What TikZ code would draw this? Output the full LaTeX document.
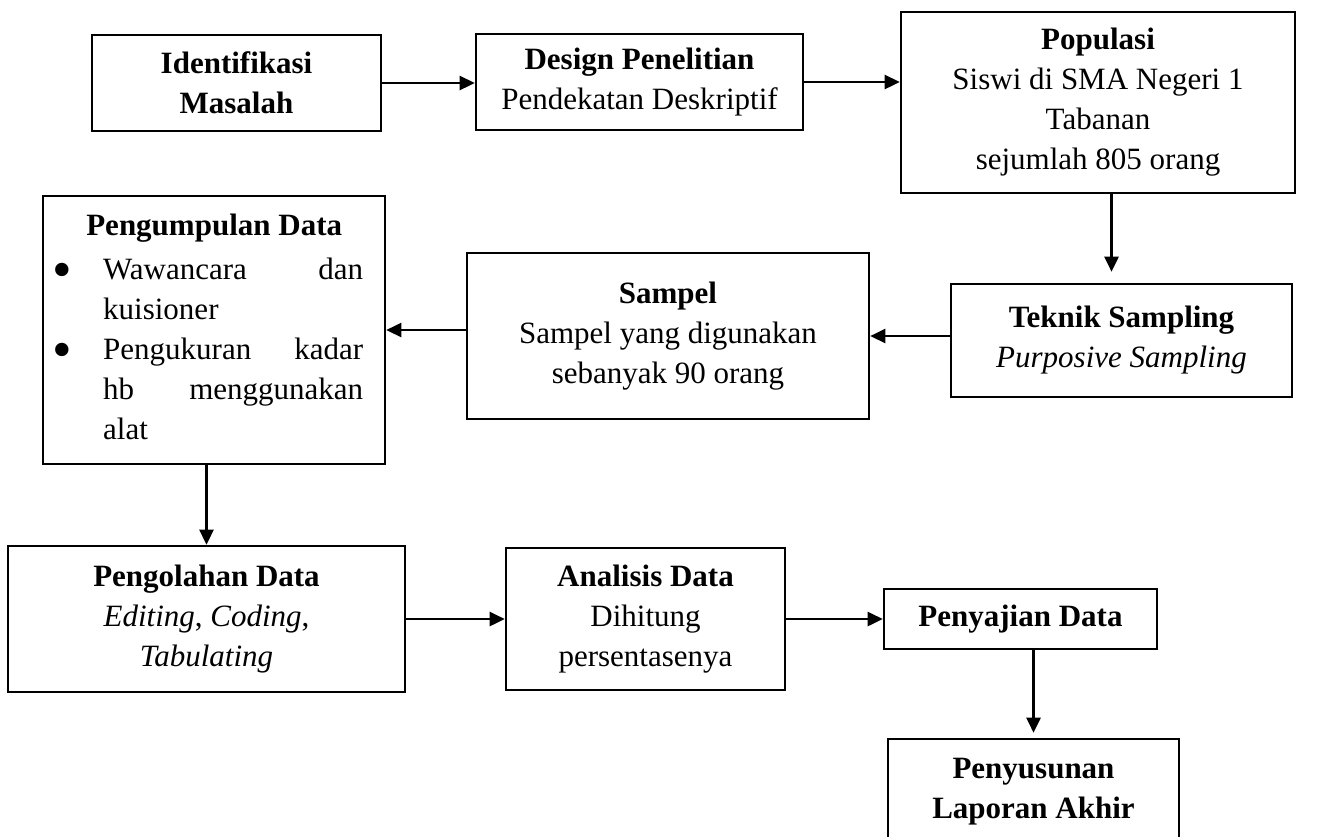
\documentclass[tikz,border=0pt]{standalone}
\usepackage{fontspec}
\setmainfont{Liberation Serif}
\usetikzlibrary{arrows.meta,calc}
\newcommand{\bigbullet}{\makebox[51pt][l]{\raisebox{-9pt}{\fontsize{56}{40}\selectfont •}}}
\begin{document}
\begin{tikzpicture}[x=1pt,y=-1pt,
  box/.style={draw,line width=2.6pt,inner sep=0pt,align=center,font=\fontsize{31}{40}\selectfont},
  arr/.style={line width=2.6pt,-{Triangle[length=15pt,width=14pt]}}]
\useasboundingbox (0,0) rectangle (1319,836);
\clip (-5,-5) rectangle (1324,836);
% row 1
\node[box,minimum width=289,minimum height=96] (ident) at (236.5,83) {\textbf{Identifikasi}\\\textbf{Masalah}};
\node[box,minimum width=327,minimum height=96] (design) at (639.5,82) {\textbf{Design Penelitian}\\Pendekatan Deskriptif};
\node[box,minimum width=394,minimum height=181] (pop) at (1098,102.5) {\textbf{Populasi}\\Siswi di SMA Negeri 1\\Tabanan\\sejumlah 805 orang};
% row 2
\node[box,minimum width=342,minimum height=268] (kumpul) at (214,330) {};
\node[anchor=base west,inner sep=0pt,font=\fontsize{31}{40}\selectfont] (kumpultext) at (43,235) {\begin{minipage}[t]{342pt}\hyphenpenalty=10000
{\centering\textbf{Pengumpulan Data}\par}
\vspace{4pt}
\parshape 2 9pt 311pt 60pt 260pt \noindent\bigbullet Wawancara dan\linebreak kuisioner\par
\parshape 3 9pt 311pt 60pt 260pt 60pt 260pt \noindent\bigbullet Pengukuran kadar\linebreak hb menggunakan\linebreak alat\par
\end{minipage}};
\node[box,minimum width=402,minimum height=166] (sampel) at (668,336) {\textbf{Sampel}\\Sampel yang digunakan\\sebanyak 90 orang};
\node[box,minimum width=341,minimum height=113] (teknik) at (1121.5,340.5) {\textbf{Teknik Sampling}\\\textit{Purposive Sampling}};
% row 3
\node[box,minimum width=397,minimum height=146] (olah) at (206.5,619) {\textbf{Pengolahan Data}\\\textit{Editing}, \textit{Coding},\\\textit{Tabulating}};
\node[box,minimum width=279,minimum height=142] (analisis) at (645.5,619) {\textbf{Analisis Data}\\Dihitung\\persentasenya};
\node[box,minimum width=273,minimum height=60] (saji) at (1020.5,619) {\textbf{Penyajian Data}};
\node[box,minimum width=291,minimum height=106] (susun) at (1033.5,792) {\textbf{Penyusunan}\\\textbf{Laporan Akhir}};
% connectors
\draw[arr] (ident.east) -- (ident.east -| design.west);
\draw[arr] (design.east) -- (design.east -| pop.west);
\draw[arr,shorten >=11pt] ([xshift=-10pt]pop.south -| teknik.north) -- ([xshift=-10pt]teknik.north);
\draw[arr] (sampel.east -| teknik.west) -- (sampel.east);
\draw[arr] (kumpul.east -| sampel.west) -- (kumpul.east);
\draw[arr] (kumpul.south -| olah.north) -- (olah.north);
\draw[arr] (olah.east) -- (olah.east -| analisis.west);
\draw[arr] (analisis.east) -- (analisis.east -| saji.west);
\draw[arr,shorten >=5pt] (susun.north |- saji.south) -- (susun.north);
\end{tikzpicture}
\end{document}
